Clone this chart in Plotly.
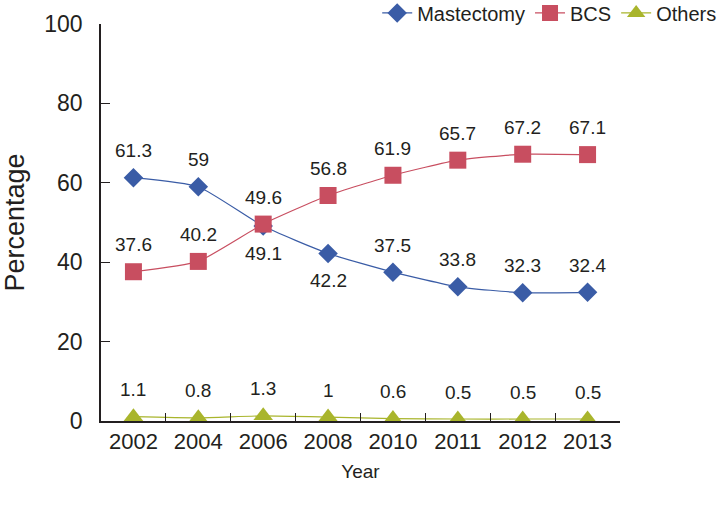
import plotly.graph_objects as go

years = ["2002", "2004", "2006", "2008", "2010", "2011", "2012", "2013"]
mastectomy = [61.3, 59, 49.1, 42.2, 37.5, 33.8, 32.3, 32.4]
bcs = [37.6, 40.2, 49.6, 56.8, 61.9, 65.7, 67.2, 67.1]
others = [1.1, 0.8, 1.3, 1, 0.6, 0.5, 0.5, 0.5]
mast_label_pos = ["top", "top", "bottom", "bottom", "top", "top", "top", "top"]

FONT = "Liberation Sans, Arial, sans-serif"
x = list(range(len(years)))

fig = go.Figure()
fig.add_trace(go.Scatter(x=x, y=mastectomy, name="Mastectomy", mode="lines+markers",
                         line=dict(color="#3A5CA6", width=1.2, shape="spline", smoothing=0.5),
                         marker=dict(symbol="diamond", size=15, color="#3A5CA6")))
fig.add_trace(go.Scatter(x=x, y=bcs, name="BCS", mode="lines+markers",
                         line=dict(color="#C84E60", width=1.2, shape="spline", smoothing=0.5),
                         marker=dict(symbol="square", size=17, color="#C84E60")))
fig.add_trace(go.Scatter(x=x, y=others, name="Others", mode="lines+markers",
                         line=dict(color="#A9B52C", width=1.2, shape="spline", smoothing=0.5),
                         marker=dict(symbol="triangle-up", size=17, color="#A9B52C")))

anns = []
def add_labels(vals, positions):
    for xi, v, p in zip(x, vals, positions):
        anns.append(dict(x=xi, y=v, xref="x", yref="y", text=str(v), showarrow=False,
                         yshift=27 if p == "top" else -27,
                         font=dict(family=FONT, size=19, color="#231f20")))
add_labels(mastectomy, mast_label_pos)
add_labels(bcs, ["top"] * len(bcs))
add_labels(others, ["top"] * len(others))

fig.update_layout(
    width=718, height=509,
    margin=dict(l=101, r=98, t=24, b=88, autoexpand=False),
    paper_bgcolor="white", plot_bgcolor="white",
    font=dict(family=FONT, size=20, color="#231f20"),
    showlegend=True,
    legend=dict(orientation="h", x=1.195, xanchor="right", y=1.028, yanchor="middle",
                font=dict(size=20), bgcolor="rgba(0,0,0,0)",
                tracegroupgap=0, itemwidth=30),
    annotations=anns,
)
fig.update_xaxes(range=[-0.5, 7.5], tickmode="array", tickvals=x, ticktext=years,
                 showline=True, linecolor="#231f20", linewidth=1.5,
                 showgrid=False, zeroline=False, ticks="", ticklen=0, tickfont=dict(size=22),
                 title=dict(text="Year", font=dict(size=19), standoff=12))
fig.update_xaxes(minor=dict(tickmode="array", tickvals=[i + 0.5 for i in range(len(years) - 1)],
                            ticks="inside", ticklen=8, tickcolor="#231f20", tickwidth=1.2, showgrid=False))
fig.update_yaxes(range=[0, 100], tickvals=[0, 20, 40, 60, 80, 100],
                 showline=True, linecolor="#231f20", linewidth=1.5,
                 showgrid=False, zeroline=False, ticks="inside", ticklen=9, tickwidth=1.2,
                 tickcolor="#231f20", tickfont=dict(size=23), ticklabelstandoff=12,
                 title=dict(text="Percentage", font=dict(size=27), standoff=14))

fig.write_html("out.html", config={"displayModeBar": False},
               post_script="document.body.style.margin='0';")
